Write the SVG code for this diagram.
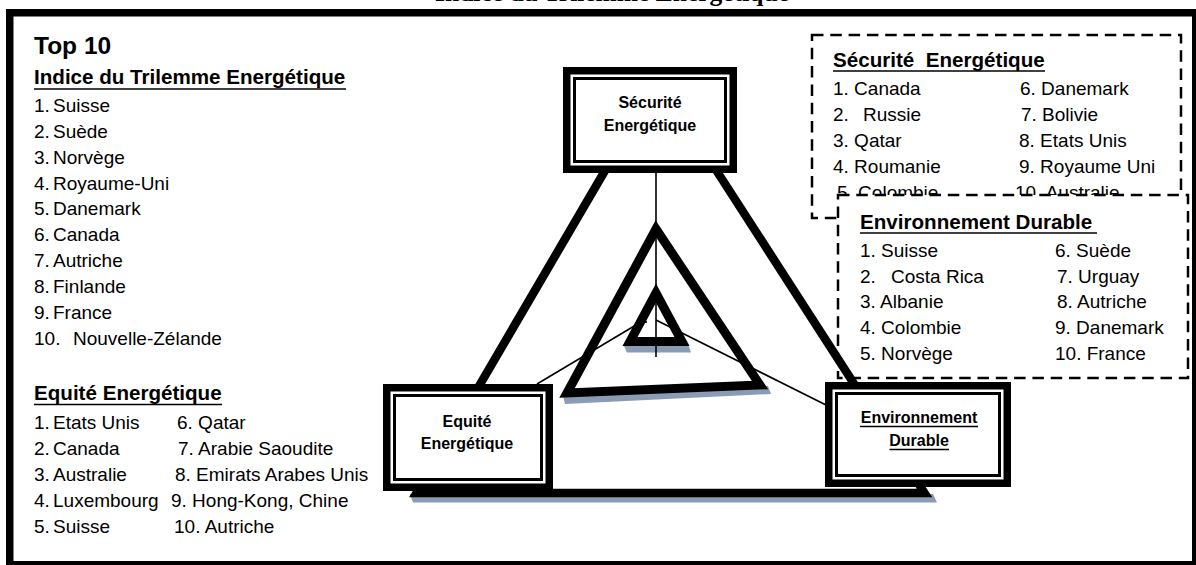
<svg xmlns="http://www.w3.org/2000/svg" width="1196" height="565" viewBox="0 0 1196 565">
<style>
.t{font-family:"Liberation Sans",Arial,sans-serif;font-size:19px;fill:#000}
.h{font-family:"Liberation Sans",Arial,sans-serif;font-size:20.6px;font-weight:bold;fill:#000}
.n{font-family:"Liberation Sans",Arial,sans-serif;font-size:16px;font-weight:bold;text-anchor:middle;fill:#000}
.ul{stroke:#000;stroke-width:1.6}
.dash{fill:#fff;stroke:#000;stroke-width:2.5;stroke-dasharray:11.5 6.8}
.tri{fill:none;stroke:#000;stroke-linejoin:miter;stroke-miterlimit:10}
.sh{fill:#8A9BB6}
.conn{stroke:#000;stroke-width:1.6;fill:none}
.nb{fill:#000}
.nw{fill:#fff}
.ni{fill:#fff;stroke:#000;stroke-width:3}
</style>
<rect width="1196" height="565" fill="#fff"/>
<path fill="#000" fill-rule="evenodd" d="M6 9H1196V565H6Z M13.5 16.5V561H1192V16.5Z"/>
<text x="612" y="1" text-anchor="middle" font-family="'Liberation Serif','Times New Roman',serif" font-weight="bold" font-size="25.5">Indice du Trilemme Energétique</text>

<g id="list-indice">
<text class="h" x="34" y="54" style="font-size:24.5px">Top 10</text>
<text class="h" x="34" y="84">Indice du Trilemme Energétique</text>
<line class="ul" x1="34" y1="89" x2="346" y2="89"/>
<text class="t" y="111.7"><tspan x="34">1.</tspan><tspan x="53">Suisse</tspan></text>
<text class="t" y="137.6"><tspan x="34">2.</tspan><tspan x="53">Suède</tspan></text>
<text class="t" y="163.6"><tspan x="34">3.</tspan><tspan x="53">Norvège</tspan></text>
<text class="t" y="189.5"><tspan x="34">4.</tspan><tspan x="53">Royaume-Uni</tspan></text>
<text class="t" y="215.4"><tspan x="34">5.</tspan><tspan x="53">Danemark</tspan></text>
<text class="t" y="241.3"><tspan x="34">6.</tspan><tspan x="53">Canada</tspan></text>
<text class="t" y="267.3"><tspan x="34">7.</tspan><tspan x="53">Autriche</tspan></text>
<text class="t" y="293.2"><tspan x="34">8.</tspan><tspan x="53">Finlande</tspan></text>
<text class="t" y="319.1"><tspan x="34">9.</tspan><tspan x="53">France</tspan></text>
<text class="t" y="345"><tspan x="34">10.</tspan><tspan x="73">Nouvelle-Zélande</tspan></text>
</g>

<g id="list-equite">
<text class="h" x="34" y="400">Equité Energétique</text>
<line class="ul" x1="34" y1="404.5" x2="222" y2="404.5"/>
<text class="t" y="429"><tspan x="34">1.</tspan><tspan x="53">Etats Unis</tspan><tspan x="177">6. Qatar</tspan></text>
<text class="t" y="455"><tspan x="34">2.</tspan><tspan x="53">Canada</tspan><tspan x="178">7. Arabie Saoudite</tspan></text>
<text class="t" y="481"><tspan x="34">3.</tspan><tspan x="53">Australie</tspan><tspan x="175">8. Emirats Arabes Unis</tspan></text>
<text class="t" y="507"><tspan x="34">4.</tspan><tspan x="53">Luxembourg</tspan><tspan x="171">9. Hong-Kong, Chine</tspan></text>
<text class="t" y="533"><tspan x="34">5.</tspan><tspan x="53">Suisse</tspan><tspan x="174">10. Autriche</tspan></text>
</g>

<g id="box-securite">
<rect class="dash" x="812" y="35" width="369" height="183"/>
<text class="h" x="833" y="67" xml:space="preserve">Sécurité  Energétique</text>
<line class="ul" x1="833" y1="71" x2="1045" y2="71"/>
<text class="t" y="95"><tspan x="833">1. Canada</tspan><tspan x="1020">6. Danemark</tspan></text>
<text class="t" y="121"><tspan x="833">2.</tspan><tspan x="863">Russie</tspan><tspan x="1021">7. Bolivie</tspan></text>
<text class="t" y="147"><tspan x="833">3. Qatar</tspan><tspan x="1019">8. Etats Unis</tspan></text>
<text class="t" y="173"><tspan x="833">4. Roumanie</tspan><tspan x="1019">9. Royaume Uni</tspan></text>
<text class="t" y="199"><tspan x="837">5. Colombie</tspan><tspan x="1015">10. Australie</tspan></text>
</g>

<g id="box-environnement">
<rect class="dash" x="838" y="195" width="350" height="183"/>
<text class="h" x="860" y="229">Environnement Durable</text>
<line class="ul" x1="860" y1="233" x2="1097" y2="233"/>
<text class="t" y="257"><tspan x="860">1. Suisse</tspan><tspan x="1055">6. Suède</tspan></text>
<text class="t" y="282.5"><tspan x="860">2.</tspan><tspan x="891">Costa Rica</tspan><tspan x="1057">7. Urguay</tspan></text>
<text class="t" y="308"><tspan x="860">3. Albanie</tspan><tspan x="1057">8. Autriche</tspan></text>
<text class="t" y="334"><tspan x="860">4. Colombie</tspan><tspan x="1055">9. Danemark</tspan></text>
<text class="t" y="360"><tspan x="860">5. Norvège</tspan><tspan x="1055">10. France</tspan></text>
</g>

<g id="triangles">
<polygon class="sh" points="410,494 933,494 937,502.5 413,502.5"/>
<polygon class="sh" points="563,396 768,386 771,394 565,404"/>
<polygon class="sh" points="623,344 688,344 691,352.5 627,352.5"/>
<polygon class="tri" stroke-width="8.5" points="658,80 416.5,493 924.5,493"/>
<polygon class="tri" stroke-width="9" points="656,229 567,393 760,385"/>
<polygon class="tri" stroke-width="9" points="656,293 630,341.5 682,341.5"/>
</g>

<g id="connectors">
<line class="conn" x1="656" y1="173" x2="656" y2="357"/>
<line class="conn" x1="537" y1="384" x2="646" y2="319"/>
<line class="conn" x1="642" y1="322" x2="647" y2="322"/>
<line class="conn" x1="656" y1="320" x2="826" y2="405"/>
</g>

<g id="node-securite">
<rect class="nb" x="563" y="67" width="174" height="106"/>
<rect class="nw" x="570.5" y="74.5" width="159" height="91"/>
<rect class="ni" x="574.5" y="78.5" width="151" height="83"/>
<text class="n" x="650" y="108">Sécurité</text>
<text class="n" x="650" y="131">Energétique</text>
</g>

<g id="node-equite">
<rect class="nb" x="383" y="384" width="170" height="107"/>
<rect class="nw" x="390.5" y="391.5" width="155" height="92"/>
<rect class="ni" x="394.5" y="395.5" width="147" height="84"/>
<text class="n" x="467" y="427">Equité</text>
<text class="n" x="467" y="448.5">Energétique</text>
</g>

<g id="node-environnement">
<rect class="nb" x="825" y="382" width="186" height="105"/>
<rect class="nw" x="832.5" y="389.5" width="171" height="90"/>
<rect class="ni" x="836.5" y="393.5" width="163" height="82"/>
<text class="n" x="919" y="423">Environnement</text>
<line class="ul" x1="860" y1="426.5" x2="978" y2="426.5"/>
<text class="n" x="919" y="446">Durable</text>
<line class="ul" x1="889.5" y1="449.5" x2="949" y2="449.5"/>
</g>
</svg>
